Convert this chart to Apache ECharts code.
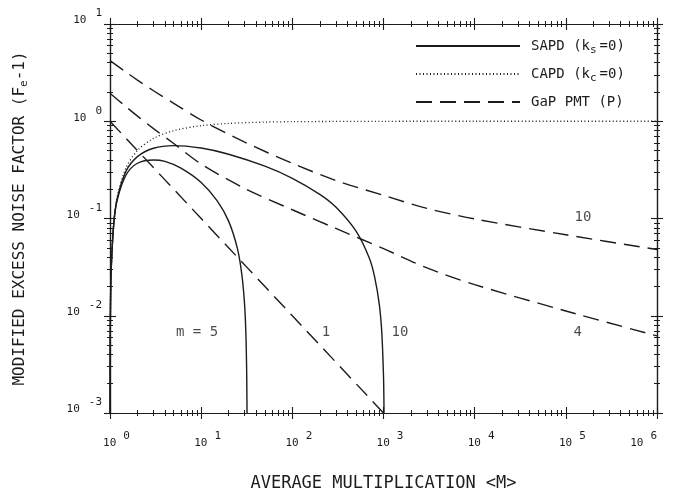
<!DOCTYPE html>
<html>
<head>
<meta charset="utf-8">
<script src="https://cdn.jsdelivr.net/npm/echarts@6/dist/echarts.min.js"></script>
<style>
  html, body { margin: 0; padding: 0; background: #fff; }
  #chart { width: 681px; height: 497px; }
</style>
</head>
<body>
<div id="chart"></div>
<script>
// SAPD (ks=0), m = 5 and m = 10
const sapd5M = [1.001, 1.003, 1.01, 1.03, 1.1, 1.2, 1.5, 2, 3, 4, 6, 10, 15, 20, 25, 28, 30, 31, 31.5, 31.7, 31.85];
const sapd5V = [0.001, 0.003, 0.0099, 0.029, 0.088, 0.155, 0.28, 0.37, 0.40, 0.387, 0.33, 0.235, 0.152, 0.094, 0.049, 0.026, 0.0127, 0.0062, 0.003, 0.0018, 0.001];
const sapd10M = [1.001, 1.003, 1.01, 1.03, 1.1, 1.2, 1.5, 2, 3, 5, 10, 20, 50, 100, 200, 300, 500, 700, 800, 900, 960, 1000, 1010, 1013];
const sapd10V = [0.001, 0.003, 0.0099, 0.029, 0.089, 0.161, 0.307, 0.433, 0.528, 0.562, 0.53, 0.458, 0.345, 0.259, 0.177, 0.131, 0.074, 0.039, 0.025, 0.013, 0.0065, 0.0024, 0.0014, 0.001];

// CAPD (kc=0)
const capdM = [1.001, 1.003, 1.01, 1.03, 1.1, 1.2, 1.5, 2, 3, 5, 10, 20, 50, 100, 1000, 1e4, 1e5, 1e6];
const capdV = [0.001, 0.003, 0.0099, 0.029, 0.091, 0.167, 0.333, 0.5, 0.667, 0.8, 0.9, 0.95, 0.98, 0.99, 0.999, 1, 1, 1];

// GaP PMT (P), curves 10, 4, 1
const pmtM = [1, 1.5, 2, 3, 5, 10, 30, 100, 300, 1000, 3000, 1e4, 1e5, 1e6];
const pmt10V = [4.2, 3.2, 2.65, 2.06, 1.53, 1.03, 0.61, 0.369, 0.246, 0.173, 0.127, 0.099, 0.068, 0.048];
const pmt4V = [1.94, 1.41, 1.13, 0.84, 0.59, 0.363, 0.204, 0.123, 0.079, 0.049, 0.031, 0.0209, 0.0112, 0.0062];
const pmt1M = [1, 10, 100, 1000];
const pmt1V = [1, 0.1, 0.01, 0.001];

// curve labels
const annoText = ['m = 5', '1', '10', '10', '4'];
const annoM = [9.0, 234, 1514, 1.54e5, 1.35e5];
const annoV = [0.0067, 0.0067, 0.0067, 0.102, 0.0067];

// tick labels (exponents of 10)
const xTickExp = ['0', '1', '2', '3', '4', '5', '6'];
const yTickExp = ['-3', '-2', '-1', '0', '1'];

const legendNames = ['SAPD', 'CAPD', 'GaP PMT'];
const legendLabels = [
  '{t|SAPD (k}{s|s}{q|=0)}',
  '{t|CAPD (k}{s|c}{q|=0)}',
  '{t|GaP PMT (P)}'
];

const INK = '#1c1c1c';
const MONO = 'DejaVu Sans Mono';

const zip = (a, b) => a.map((v, i) => [v, b[i]]);

function xAxisOf(position, inside, withLabel) {
  return {
    type: 'log', logBase: 10, min: 1, max: 1e6, interval: 1,
    position: position,
    axisLine: { show: true, onZero: false, lineStyle: { color: INK, width: 1.2 } },
    axisTick: { show: true, inside: inside, length: 6, lineStyle: { color: INK, width: 1.1 } },
    minorTick: { show: true, splitNumber: 9, length: 3, lineStyle: { color: INK, width: 1 } },
    splitLine: { show: false },
    axisLabel: withLabel ? {
      show: true, margin: 18, alignMaxLabel: 'right',
      formatter: (v, i) => '{b|10}{e|' + xTickExp[i] + '}',
      rich: {
        b: { fontFamily: MONO, fontSize: 11, color: INK, verticalAlign: 'bottom', padding: [0, 0, 0, 13] },
        e: { fontFamily: MONO, fontSize: 11, color: INK, verticalAlign: 'bottom', padding: [0, 0, 7, 7] }
      }
    } : { show: false },
    name: withLabel ? 'AVERAGE MULTIPLICATION <M>' : '',
    nameLocation: 'middle', nameGap: 62,
    nameTextStyle: { fontFamily: MONO, fontSize: 17, color: INK }
  };
}

function yAxisOf(position, inside, withLabel) {
  return {
    type: 'log', logBase: 10, min: 0.001, max: 10, interval: 1,
    position: position,
    axisLine: { show: true, onZero: false, lineStyle: { color: INK, width: 1.2 } },
    axisTick: { show: true, inside: inside, length: 6, lineStyle: { color: INK, width: 1.1 } },
    minorTick: { show: true, splitNumber: 9, length: 3, lineStyle: { color: INK, width: 1 } },
    splitLine: { show: false },
    axisLabel: withLabel ? {
      show: true, margin: 8, padding: [0, 0, 14, 0],
      formatter: (v, i) => '{b|10}{e|' + yTickExp[i] + '}',
      rich: {
        b: { fontFamily: MONO, fontSize: 11, color: INK, verticalAlign: 'bottom' },
        e: { fontFamily: MONO, fontSize: 11, color: INK, verticalAlign: 'bottom', padding: [0, 0, 7, 9] }
      }
    } : { show: false },
    name: withLabel ? '{t|MODIFIED EXCESS NOISE FACTOR (F}{s|e}{t|-1)}' : '',
    nameLocation: 'middle', nameGap: 80,
    nameTextStyle: {
      color: INK,
      rich: {
        t: { fontFamily: MONO, fontSize: 16, color: INK },
        s: { fontFamily: MONO, fontSize: 11, color: INK, padding: [10, 0, 0, 0] }
      }
    }
  };
}

const solid = { color: INK, width: 1.4, type: 'solid' };
const dotted = { color: INK, width: 1.3, type: [1, 2.5] };
const dashed = { color: INK, width: 1.4, type: [16, 8] };

function lineSeries(name, data, style) {
  return {
    name: name, type: 'line', data: data,
    symbol: 'none', showSymbol: false, smooth: 0.3,
    xAxisIndex: 0, yAxisIndex: 0,
    lineStyle: style, itemStyle: { color: INK },
    silent: true, animation: false
  };
}

const chart = echarts.init(document.getElementById('chart'), null, { renderer: 'canvas' });

chart.setOption({
  backgroundColor: '#fff',
  animation: false,
  grid: { left: 110, right: 24, top: 24, bottom: 84 },
  xAxis: [
    xAxisOf('bottom', false, true),
    xAxisOf('bottom', true, false),
    xAxisOf('top', false, false),
    xAxisOf('top', true, false)
  ],
  yAxis: [
    yAxisOf('left', false, true),
    yAxisOf('left', true, false),
    yAxisOf('right', false, false),
    yAxisOf('right', true, false)
  ],
  legend: {
    data: legendNames,
    orient: 'vertical',
    left: 415, top: 39, padding: 0,
    itemWidth: 104, itemHeight: 16, itemGap: 11,
    itemStyle: { opacity: 0 },
    formatter: name => legendLabels[legendNames.indexOf(name)],
    textStyle: {
      color: INK,
      rich: {
        t: { fontFamily: MONO, fontSize: 14, color: INK, padding: [0, 0, 0, 6] },
        s: { fontFamily: MONO, fontSize: 11, color: INK, padding: [9, 0, 0, 0] },
        q: { fontFamily: MONO, fontSize: 14, color: INK, padding: [0, 0, 0, 3] }
      }
    },
    selectedMode: false
  },
  series: [
    lineSeries('SAPD', zip(sapd5M, sapd5V), solid),
    lineSeries('SAPD', zip(sapd10M, sapd10V), solid),
    lineSeries('CAPD', zip(capdM, capdV), dotted),
    lineSeries('GaP PMT', zip(pmtM, pmt10V), dashed),
    lineSeries('GaP PMT', zip(pmtM, pmt4V), dashed),
    lineSeries('GaP PMT', zip(pmt1M, pmt1V), dashed),
    {
      name: 'labels', type: 'scatter',
      data: zip(annoM, annoV),
      symbol: 'circle', symbolSize: 1,
      itemStyle: { color: 'rgba(0,0,0,0)' },
      label: {
        show: true, position: 'inside',
        formatter: p => annoText[p.dataIndex],
        fontFamily: MONO, fontSize: 14, color: INK
      },
      silent: true, z: 5
    }
  ]
});

window.addEventListener('resize', () => chart.resize());
</script>
</body>
</html>
